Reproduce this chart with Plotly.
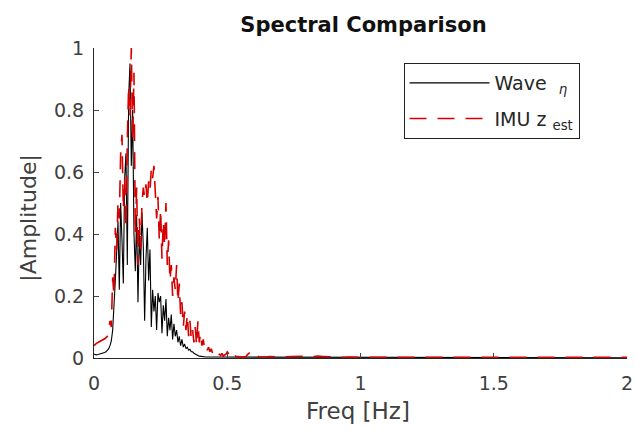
import numpy as np
import plotly.graph_objects as go

# Frequency grids [Hz]
freq_fine = np.round(np.arange(0, 121) * 0.005, 4)          # 0 .. 0.60
freq_tail = np.round(0.62 + np.arange(0, 70) * 0.02, 4)      # 0.62 .. 2.00

wave_fine = [
    0.012, 0.010, 0.010, 0.011, 0.012, 0.013, 0.015, 0.016, 0.018, 0.020,
    0.024, 0.030, 0.040, 0.055, 0.09, 0.16, 0.25, 0.34, 0.44, 0.22,
    0.50, 0.38, 0.24, 0.58, 0.66, 0.30, 0.84, 0.95, 0.62, 0.80,
    0.40, 0.28, 0.46, 0.18, 0.40, 0.30, 0.47, 0.36, 0.12, 0.32,
    0.42, 0.25, 0.35, 0.10, 0.22, 0.15, 0.20, 0.09, 0.21, 0.18,
    0.20, 0.08, 0.17, 0.12, 0.19, 0.07, 0.13, 0.09, 0.14, 0.06,
    0.11, 0.07, 0.09, 0.05, 0.07, 0.04, 0.06, 0.035, 0.045, 0.03,
    0.035, 0.025, 0.028, 0.02, 0.02, 0.015, 0.012, 0.010, 0.008, 0.006,
    0.005, 0.004, 0.004, 0.003, 0.003, 0.003, 0.003, 0.002, 0.002, 0.002,
    0.002, 0.002, 0.002, 0.002, 0.002, 0.002, 0.002, 0.002, 0.002, 0.002,
    0.002, 0.001, 0.001, 0.001, 0.001, 0.001, 0.001, 0.001, 0.001, 0.001,
    0.001, 0.001, 0.001, 0.001, 0.001, 0.001, 0.001, 0.001, 0.001, 0.001,
    0.001,
]
imu_fine = [
    0.040, 0.045, 0.048, 0.050, 0.052, 0.055, 0.058, 0.060, 0.062, 0.066,
    0.07, 0.09, 0.12, 0.10, 0.26, 0.20, 0.42, 0.35, 0.50, 0.45,
    0.66, 0.72, 0.48, 0.58, 0.42, 0.70, 0.88, 0.78, 1.00, 0.70,
    0.92, 0.40, 0.55, 0.30, 0.45, 0.35, 0.50, 0.55, 0.52, 0.56,
    0.50, 0.57, 0.54, 0.61, 0.58, 0.62, 0.52, 0.45, 0.52, 0.38,
    0.48, 0.32, 0.44, 0.36, 0.50, 0.30, 0.38, 0.25, 0.30, 0.20,
    0.26, 0.22, 0.30, 0.18, 0.24, 0.14, 0.18, 0.10, 0.15, 0.09,
    0.14, 0.07, 0.12, 0.06, 0.09, 0.05, 0.10, 0.04, 0.12, 0.05,
    0.08, 0.04, 0.06, 0.03, 0.04, 0.025, 0.035, 0.02, 0.03, 0.015,
    0.02, 0.012, 0.018, 0.010, 0.012, 0.008, 0.015, 0.006, 0.010, 0.012,
    0.02, 0.012, 0.008, 0.015, 0.02, 0.010, 0.006, 0.004, 0.005, 0.004,
    0.003, 0.004, 0.003, 0.004, 0.005, 0.010, 0.015, 0.020, 0.022, 0.018,
    0.010,
]
wave_tail = [0.001] * 70
imu_tail = [
    0.004, 0.003, 0.005, 0.004, 0.006, 0.004, 0.005, 0.006, 0.005, 0.006,
    0.004, 0.006, 0.005, 0.004, 0.003, 0.003, 0.002, 0.003, 0.002, 0.002,
    0.002, 0.002, 0.002, 0.002, 0.002, 0.002, 0.002, 0.002, 0.002, 0.002,
    0.002, 0.002, 0.002, 0.002, 0.002, 0.002, 0.002, 0.002, 0.002, 0.002,
    0.002, 0.002, 0.002, 0.002, 0.002, 0.002, 0.002, 0.002, 0.002, 0.002,
    0.002, 0.002, 0.002, 0.002, 0.002, 0.002, 0.002, 0.002, 0.002, 0.002,
    0.002, 0.002, 0.002, 0.002, 0.002, 0.002, 0.002, 0.002, 0.002, 0.002,
]

freq = list(freq_fine) + list(freq_tail)
wave = wave_fine + wave_tail
imu = imu_fine + imu_tail

x_ticks = [0, 0.5, 1, 1.5, 2]
y_ticks = [0, 0.2, 0.4, 0.6, 0.8, 1]

FONT = "DejaVu Sans"
AX = "#262626"
TXT = "#404040"

# plot-area geometry in pixels
L, R, T, B = 94, 2, 48, 72
W, H = 635, 430
PW, PH = W - L - R, H - T - B

fig = go.Figure()
fig.add_trace(go.Scatter(x=freq, y=wave, mode="lines", name="Wave  <sub><i>η</i></sub>",
                         legendgroup="a",
                         line=dict(color="black", width=1.1)))
fig.add_trace(go.Scatter(x=freq, y=imu, mode="lines", name="IMU z <sub>est</sub>",
                         legendgroup="b",
                         line=dict(color="rgb(215,0,0)", width=1.6, dash="17px,11px")))

fig.update_layout(
    width=W, height=H,
    margin=dict(l=L, r=R, t=T, b=B),
    paper_bgcolor="white", plot_bgcolor="white",
    font=dict(family=FONT, color=TXT, size=19),
    title=dict(text="<b>Spectral Comparison</b>", x=(L + L + PW) / 2 / W, xanchor="center",
               y=1 - 25 / H, yanchor="middle", font=dict(size=21, color="#111111")),
    showlegend=True,
    legend=dict(x=(407 - L) / PW, y=1 - (63 - T) / PH, xanchor="left", yanchor="top",
                bordercolor="#222222", borderwidth=1, bgcolor="white",
                font=dict(size=19, color="#262626"), itemwidth=80,
                tracegroupgap=8),
    annotations=[
        dict(text="Freq [Hz]", xref="paper", yref="paper",
             x=(361 - L) / PW, y=-(411 - (T + PH)) / PH, xanchor="center", yanchor="middle",
             showarrow=False, font=dict(size=23, color=TXT)),
        dict(text="|Amplitude|", xref="paper", yref="paper", textangle=-90,
             x=(28 - L) / PW, y=(T + PH - 218) / PH, xanchor="center", yanchor="middle",
             showarrow=False, font=dict(size=22, color=TXT)),
    ],
)
fig.update_xaxes(range=[0, 2], tickvals=x_ticks, ticks="inside", ticklen=5,
                 showline=True, linecolor=AX, linewidth=1, mirror=False,
                 showgrid=False, zeroline=False, ticklabeloverflow="allow",
                 ticklabelstandoff=8,
                 tickfont=dict(size=19, color=TXT))
fig.update_yaxes(range=[0, 1], tickvals=y_ticks, ticks="inside", ticklen=5,
                 showline=True, linecolor=AX, linewidth=1, mirror=False,
                 showgrid=False, zeroline=False, ticklabelstandoff=5,
                 tickfont=dict(size=19, color=TXT))

fig.write_html("out.html")
